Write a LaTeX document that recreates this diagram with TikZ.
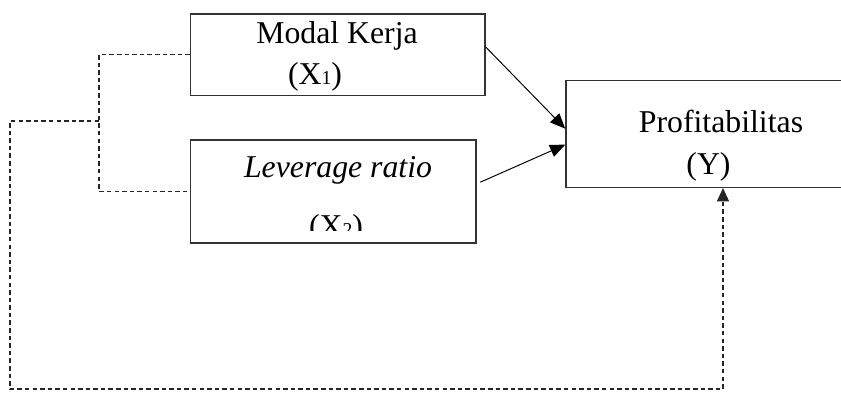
\documentclass[tikz,border=0pt]{standalone}
\usepackage{fontspec}
\setmainfont{Liberation Serif}
\usetikzlibrary{arrows.meta, positioning, calc}

\newcommand{\sub}[1]{{\fontsize{14}{14}\selectfont #1}}

\tikzset{
	varbox/.style={draw=black!80, line width=1.1pt, rectangle},
	label/.style={anchor=base, font=\fontsize{22.6}{27}\selectfont},
	path/.style={line width=0.7pt, -{Triangle[length=0.38cm,width=0.32cm]}},
	dashline/.style={line width=0.8pt, dash pattern=on 3.2pt off 2.2pt, black!85}
}

\begin{document}
\begin{tikzpicture}
	\useasboundingbox (0,0) rectangle (21.025,9.9);
	% boxes
	\node[varbox, minimum width=7.36cm, minimum height=2.04cm] (x1) at (8.446,8.529) {};
	\node[varbox, minimum width=7.13cm, minimum height=2.57cm] (x2) at (8.33,5.116) {};
	\node[varbox, minimum width=7.6cm, minimum height=2.665cm] (y) at (17.95,6.55) {};
	% texts
	\node[label] (x1a) at (8.425,8.8175) {Modal Kerja};
	\node[label] (x1b) at (7.875,7.775) {(X\sub{1})};
	\node[label] (x2a) at (8.45,5.4675) {\textit{Leverage ratio}};
	\begin{scope}
		\clip (4.7,4.1325) rectangle (12,5.2);
		\node[label] (x2b) at (8.4,4.0) {(X\sub{2})};
	\end{scope}
	\node[label] (ya) at (18.025,6.5825) {Profitabilitas};
	\node[label] (yb) at (17.7125,5.5425) {(Y)};
	% arrows
	\draw[path] (x1.3) -- (y.178);
	\draw[path, shorten <=0.1cm] (x2.3) -- (y.184);
	% dashed links
	\coordinate (jn) at (2.475,0);
	\coordinate (mid) at (2.475,6.875);
	\coordinate (lo) at (0.25,0.175);
	\coordinate (fb) at (18.075,0);
	\draw[dashline] (x1.west) -| (jn |- x2.west) -- (x2.west);
	\draw[dashline, -{Triangle[length=0.33cm,width=0.3cm]}] (mid) -| (lo) -| (fb |- y.south);
\end{tikzpicture}
\end{document}
